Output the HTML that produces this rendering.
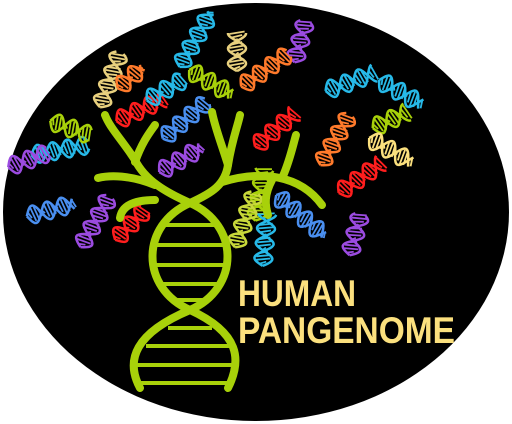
<!DOCTYPE html>
<html><head><meta charset="utf-8"><style>
html,body{margin:0;padding:0;background:#fff;width:512px;height:424px;overflow:hidden}
svg{display:block}
</style></head><body>
<svg id="logo" width="512" height="424" viewBox="0 0 512 424" xmlns="http://www.w3.org/2000/svg">
<ellipse cx="256" cy="212" rx="253" ry="209" fill="#000"/>
<g id="helices"></g>
<g fill="none" stroke="#a8d10a" stroke-width="8" stroke-linecap="round">
  <path d="M140,388 C125,360 135,333 190,310 C240,288 240,225 190,203 C165,192 145,180 135,160 C122,140 110,128 105,115"/>
  <path d="M228,388 C242,360 240,333 190,310 C140,288 140,225 190,203 C212,193 225,185 228,165 C232,140 238,125 240,115"/>
  <path d="M135,162 C142,142 150,132 155,125"/>
  <path d="M155,185 C130,175 110,175 98,178"/>
  <path d="M155,200 C135,200 122,205 120,218"/>
  <path d="M228,165 C222,145 215,128 212,112"/>
  <path d="M222,182 C262,170 300,175 322,205"/>
  <path d="M283,176 C290,160 293,145 296,135"/>
  <path d="M272,180 C264,195 265,205 268,215"/>
</g>
<g stroke="#a8d10a" stroke-width="4">
  <line x1="164" y1="225" x2="216" y2="225"/><line x1="155" y1="245" x2="225" y2="245"/>
  <line x1="153" y1="265" x2="226" y2="265"/><line x1="158" y1="284" x2="221" y2="284"/>
  <line x1="172" y1="300" x2="208" y2="300"/>
  <line x1="168" y1="328" x2="212" y2="328"/><line x1="146" y1="346" x2="232" y2="346"/>
  <line x1="137" y1="365" x2="234" y2="365"/><line x1="139" y1="383" x2="230" y2="383"/>
</g>
<text x="238" y="306" font-family="Liberation Sans, sans-serif" font-weight="bold" font-size="37" fill="#fbe07e" textLength="118" lengthAdjust="spacingAndGlyphs">HUMAN</text>
<text x="238" y="343" font-family="Liberation Sans, sans-serif" font-weight="bold" font-size="37" fill="#fbe07e" textLength="217" lengthAdjust="spacingAndGlyphs">PANGENOME</text>
</svg>
<script>
const helixX=[195,110,130,237,300,210,265,140,185,350,400,390,335,390,360,60,70,180,275,260,50,95,130,245,265,300,355,28,165];
const helixY=[40,80,78,52,42,82,70,110,120,82,92,120,140,150,178,150,128,160,130,195,210,222,225,220,240,215,235,160,90];
const helixA=[-60,-70,-40,-90,-75,30,-35,-25,-40,-20,30,-25,-60,30,-35,-10,20,-30,-40,-80,-15,-60,-45,-70,-85,40,-75,-20,-30];
const helixC=['#27b9e8','#e8d07e','#ff7a2b','#e8d07e','#9b4be0','#a8d10a','#ff7a2b','#ff1e1e','#4a8ff0','#27b9e8','#27b9e8','#a8d10a','#ff7a2b','#fbe07e','#ff1e1e','#27b9e8','#a8d10a','#9b4be0','#ff1e1e','#a8d10a','#4a8ff0','#9b4be0','#ff1e1e','#c8d83a','#27b9e8','#4a8ff0','#9b4be0','#9b4be0','#27b9e8'];
const helixL=[62,58,32,38,42,48,58,52,58,52,48,38,58,48,52,58,42,48,52,52,48,58,42,58,52,62,42,42,42];
const NS='http://www.w3.org/2000/svg';
const g=document.getElementById('helices');
for(let i=0;i<helixX.length;i++){
  const grp=document.createElementNS(NS,'g');
  
  
  grp.setAttribute('transform','translate('+helixX[i]+','+helixY[i]+') rotate('+helixA[i]+')');
  const L=helixL[i],w=9;let d1='',d2='';
  for(let s=0;s<=40;s++){const x=-L/2+L*s/40;const y=w*Math.sin(s/40*Math.PI*2*L/30);
    d1+=(s?'L':'M')+x.toFixed(1)+','+y.toFixed(1);d2+=(s?'L':'M')+x.toFixed(1)+','+(-y).toFixed(1);}
  for(const d of [d1,d2]){const p=document.createElementNS(NS,'path');
    
    
    p.setAttribute('d',d);p.setAttribute('fill','none');p.setAttribute('stroke',helixC[i]);p.setAttribute('stroke-width','2.5');grp.appendChild(p);}
  for(let x=-L/2+2;x<L/2;x+=3.5){const y=w*Math.sin((x+L/2)/L*Math.PI*2*L/30);
    const r=document.createElementNS(NS,'line');
    
    
    r.setAttribute('x1',x);r.setAttribute('x2',x+2.5);r.setAttribute('y1',-Math.abs(y)*0.85);r.setAttribute('y2',Math.abs(y)*0.85);
    r.setAttribute('stroke',helixC[i]);r.setAttribute('stroke-width','1.8');grp.appendChild(r);}
  g.appendChild(grp);
}
</script>
</body></html>
